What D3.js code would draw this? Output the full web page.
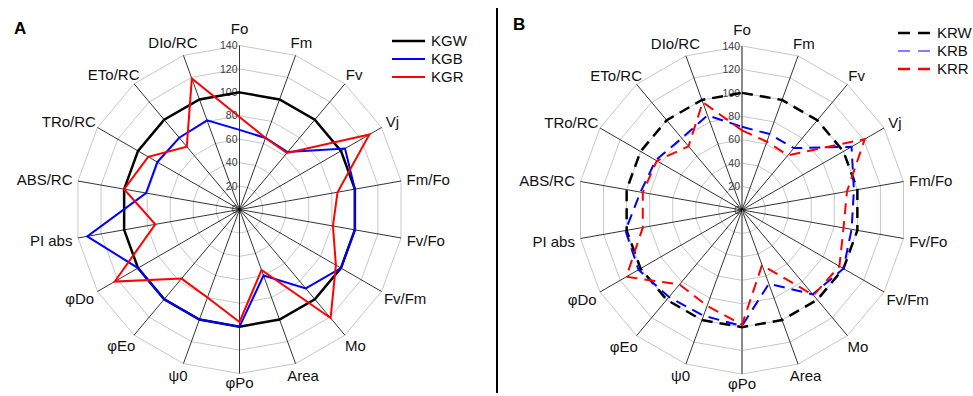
<!DOCTYPE html>
<html>
<head>
<meta charset="utf-8">
<script src="https://cdn.jsdelivr.net/npm/d3@7"></script>
<style>
  body { margin: 0; background: #fff; }
  text { font-family: "Liberation Sans", Arial, sans-serif; }
</style>
</head>
<body>
<svg class="chart"></svg>
<script>
// axes go clockwise from the top
var axes = ["Fo", "Fm", "Fv", "Vj", "Fm/Fo", "Fv/Fo", "Fv/Fm", "Mo", "Area", "φPo",
            "ψ0", "φEo", "φDo", "PI abs", "ABS/RC", "TRo/RC", "ETo/RC", "DIo/RC"];
var ticks = [0, 20, 40, 60, 80, 100, 120, 140];

// panel A
var namesA = ["KGW", "KGB", "KGR"];
var kgw = [100, 100, 100, 100, 100, 100, 100, 100, 100, 100, 100, 100, 100, 100, 100, 100, 100, 100];
var kgb = [68, 65, 64, 104, 100, 100, 100, 88, 60, 100, 100, 100, 100, 132, 81, 81, 80, 81];
var kgr = [79, 65, 63, 128, 85, 81, 95, 121, 55, 96, 80, 77, 123, 73, 100, 90, 70, 119];

// panel B
var namesB = ["KRW", "KRB", "KRR"];
var krw = [100, 100, 100, 100, 100, 100, 100, 100, 100, 100, 100, 100, 100, 100, 100, 100, 100, 100];
var krb = [71, 69, 69, 108, 97, 95, 100, 94, 67, 99, 96, 97, 102, 101, 88, 85, 80, 86];
var krr = [68, 62, 61, 121, 91, 88, 96, 95, 50, 98, 87, 83, 114, 86, 86, 84, 71, 98];

var colors = ["#000000", "#0000ff", "#ff0000"];

var svg = d3.select(".chart")
    .attr("width", 973)
    .attr("height", 396);

var R = 164;
var r = d3.scaleLinear().domain([0, 140]).range([0, R]);
var angle = d3.scaleLinear().domain([0, axes.length]).range([0, 2 * Math.PI]);

var radial = d3.lineRadial()
    .angle(function(d, i) { return angle(i); })
    .radius(function(d) { return r(d); })
    .curve(d3.curveLinearClosed);

function radar(cx, cy, data, widths, dash, grayAxis) {
    var g = svg.append("g").attr("transform", "translate(" + cx + "," + cy + ")");

    // polygon rings
    g.selectAll(".ring").data(ticks.slice(1)).enter().append("path")
        .attr("d", function(t) { return radial(axes.map(function() { return t; })); })
        .attr("fill", "none")
        .attr("stroke", "#c8c8c8")
        .attr("stroke-width", 1);

    // spokes
    g.selectAll(".spoke").data(axes).enter().append("line")
        .attr("x1", 0).attr("y1", 0)
        .attr("x2", function(d, i) { return R * Math.sin(angle(i)); })
        .attr("y2", function(d, i) { return -R * Math.cos(angle(i)); })
        .attr("stroke", function(d, i) { return grayAxis && (i === 0 || i === 9) ? "#8a8a8a" : "#000"; })
        .attr("stroke-width", function(d, i) { return grayAxis && (i === 0 || i === 9) ? 2 : 0.8; });

    // tick labels along the Fo axis
    g.selectAll(".tick").data(ticks).enter().append("text")
        .attr("x", -2)
        .attr("y", function(t) { return -r(t); })
        .attr("dy", "0.35em")
        .attr("text-anchor", "end")
        .attr("font-size", 10.5)
        .attr("fill", "#404040")
        .text(function(t) { return t; });

    // axis labels
    g.selectAll(".lab").data(axes).enter().append("text")
        .attr("font-size", 15)
        .attr("fill", "#111")
        .attr("text-anchor", "middle")
        .attr("dy", "0.35em")
        .text(function(d) { return d; })
        .each(function(d, i) {
            var a = angle(i), s = Math.sin(a), c = Math.cos(a);
            var w = this.getComputedTextLength();
            d3.select(this)
                .attr("x", R * s + s * (w / 2 + 6))
                .attr("y", -R * c - c * 13 + 1 - 4.5 * Math.pow(Math.abs(c), 20));
        });

    // series
    g.selectAll(".series").data(data).enter().append("path")
        .attr("d", function(d) { return radial(d); })
        .attr("fill", "none")
        .attr("stroke", function(d, i) { return colors[i]; })
        .attr("stroke-width", function(d, i) { return widths[i]; })
        .attr("stroke-dasharray", dash)
        .attr("stroke-linejoin", "miter");
}

function legend(x, y, names, widths, dash) {
    var g = svg.append("g").attr("transform", "translate(" + x + "," + y + ")");
    var row = g.selectAll("g").data(names).enter().append("g")
        .attr("transform", function(d, i) { return "translate(0," + (i * 18) + ")"; });
    row.append("line")
        .attr("x1", 0).attr("x2", 33).attr("y1", 0).attr("y2", 0)
        .attr("stroke", function(d, i) { return colors[i]; })
        .attr("stroke-width", function(d, i) { return widths[i]; })
        .attr("stroke-dasharray", dash);
    row.append("text")
        .attr("x", 39).attr("y", 0).attr("dy", "0.35em")
        .attr("font-size", 15)
        .attr("fill", "#111")
        .text(function(d) { return d; });
}

radar(239.5, 209.5, [kgw, kgb, kgr], [2.5, 2, 2], null, false);
radar(742, 210, [krw, krb, krr], [2.5, 2, 2], "11,7", true);

legend(392, 41, namesA, [2.5, 2, 2], null);
legend(898, 33, namesB, [2.5, 1.2, 2.5], "12,8");

// panel letters and divider
svg.append("text").attr("x", 14).attr("y", 33.5)
    .attr("font-size", 17).attr("font-weight", "bold").text("A");
svg.append("text").attr("x", 513).attr("y", 30)
    .attr("font-size", 17).attr("font-weight", "bold").text("B");
svg.append("line")
    .attr("x1", 497).attr("x2", 497).attr("y1", 8).attr("y2", 393)
    .attr("stroke", "#000").attr("stroke-width", 2);
</script>
</body>
</html>
